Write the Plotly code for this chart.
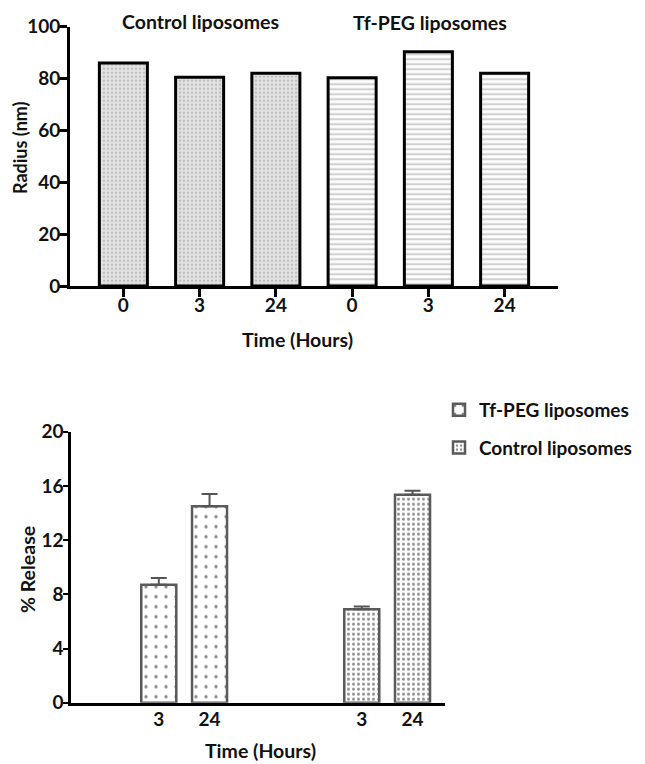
import plotly.graph_objects as go

# ---------------- data ----------------
top_time_labels = ["0", "3", "24"]
control_radius = [86, 80.5, 82]
tfpeg_radius = [80.3, 90.3, 82]

bottom_time_labels = ["3", "24"]
tfpeg_release = [8.7, 14.5]
tfpeg_release_err = [0.5, 0.9]
control_release = [6.9, 15.35]
control_release_err = [0.2, 0.3]

FONT = "Lato"
FS = 19
AFS = 19.5
W, H = 645, 764
OFF = 8  # page body margin


def px(x):
    return (x - OFF) / W


def py(y):
    return (H - (y - OFF)) / H


fig = go.Figure()

# ---------- top chart ----------
n = len(top_time_labels)
x_ctrl = list(range(n))
x_tf = [n + i for i in range(n)]

fig.add_trace(go.Bar(
    x=x_ctrl, y=control_radius, width=0.63, showlegend=False,
    marker=dict(color="#e4e4e4", line=dict(color="black", width=3),
                pattern=dict(shape=".", size=4, solidity=0.35,
                             fgcolor="#999999", bgcolor="#e4e4e4")),
    xaxis="x", yaxis="y"))
fig.add_trace(go.Bar(
    x=x_tf, y=tfpeg_radius, width=0.63, showlegend=False,
    marker=dict(color="white", line=dict(color="black", width=3),
                pattern=dict(shape="-", size=5, solidity=0.35,
                             fgcolor="#8c8c8c", bgcolor="white")),
    xaxis="x", yaxis="y"))

# ---------- bottom chart ----------
gap = 4
xb_tf = list(range(len(bottom_time_labels)))
xb_ctrl = [gap + i for i in range(len(bottom_time_labels))]

fig.add_trace(go.Bar(
    x=xb_tf, y=tfpeg_release, width=0.69, name="Tf-PEG liposomes",
    legendgroup="a",
    error_y=dict(type="data", symmetric=False, array=tfpeg_release_err,
                 arrayminus=[0] * len(tfpeg_release_err),
                 color="#555555", thickness=2, width=8),
    marker=dict(color="white", line=dict(color="#5a5a5a", width=2.5),
                pattern=dict(shape=".", size=10, solidity=0.09,
                             fgcolor="#111111", bgcolor="white")),
    xaxis="x2", yaxis="y2"))
fig.add_trace(go.Bar(
    x=xb_ctrl, y=control_release, width=0.69, name="Control liposomes",
    legendgroup="b",
    error_y=dict(type="data", symmetric=False, array=control_release_err,
                 arrayminus=[0] * len(control_release_err),
                 color="#555555", thickness=2, width=8),
    marker=dict(color="white", line=dict(color="#5a5a5a", width=2.5),
                pattern=dict(shape=".", size=5, solidity=0.28,
                             fgcolor="#1a1a1a", bgcolor="white")),
    xaxis="x2", yaxis="y2"))

tick_font = dict(family=FONT, size=FS, color="#111111", weight="bold")
ann_font = dict(family=FONT, size=AFS, color="#111111", weight="bold")


def ann(text, x, y, angle=0, size=AFS):
    f = dict(ann_font)
    f["size"] = size
    return dict(text=text, x=px(x), y=py(y), textangle=angle,
                xref="paper", yref="paper", showarrow=False,
                xanchor="center", yanchor="middle", font=f)


fig.update_layout(
    width=W, height=H,
    margin=dict(l=0, r=0, t=0, b=0, autoexpand=False),
    paper_bgcolor="white", plot_bgcolor="white",
    barmode="overlay",
    font=dict(family=FONT, size=FS, color="#111111"),
    xaxis=dict(domain=[px(70), px(558)], range=[-0.7, 5.7],
               tickvals=x_ctrl + x_tf, ticktext=top_time_labels * 2,
               showline=True, linewidth=3, linecolor="black",
               ticks="outside", ticklen=8, tickwidth=3, tickcolor="black",
               ticklabelstandoff=-8,
               showgrid=False, zeroline=False, tickfont=tick_font,
               anchor="y", automargin=False),
    yaxis=dict(domain=[py(286), py(26.7)], range=[0, 100],
               tickvals=[0, 20, 40, 60, 80, 100],
               showline=True, linewidth=3, linecolor="black",
               ticks="outside", ticklen=9, tickwidth=3, tickcolor="black",
               ticklabelstandoff=-6,
               showgrid=False, zeroline=False, tickfont=tick_font,
               anchor="x", automargin=False),
    xaxis2=dict(domain=[px(71), px(445)], range=[-1.73, 5.64],
                tickvals=xb_tf + xb_ctrl, ticktext=bottom_time_labels * 2,
                showline=True, linewidth=3, linecolor="black",
                ticks="", ticklabelstandoff=-3,
                showgrid=False, zeroline=False, tickfont=tick_font,
                anchor="y2", automargin=False),
    yaxis2=dict(domain=[py(702.7), py(431.7)], range=[0, 20],
                tickvals=[0, 4, 8, 12, 16, 20],
                showline=True, linewidth=2.5, linecolor="black",
                ticks="outside", ticklen=5, tickwidth=2, tickcolor="black",
                ticklabelstandoff=-4,
                showgrid=False, zeroline=False, tickfont=tick_font,
                anchor="x2", automargin=False),
    legend=dict(x=px(439), y=py(391), xanchor="left", yanchor="top",
                font=dict(family=FONT, size=FS, color="#111111", weight="bold"),
                tracegroupgap=10, bgcolor="rgba(0,0,0,0)"),
    annotations=[
        ann("Control liposomes", 200, 21),
        ann("Tf-PEG liposomes", 430, 23),
        ann("Time (Hours)", 297, 340),
        ann("Radius (nm)", 20, 148, -90, size=18),
        ann("Time (Hours)", 260, 750),
        ann("% Release", 27, 570, -90),
    ],
)

fig.write_html("out.html")
